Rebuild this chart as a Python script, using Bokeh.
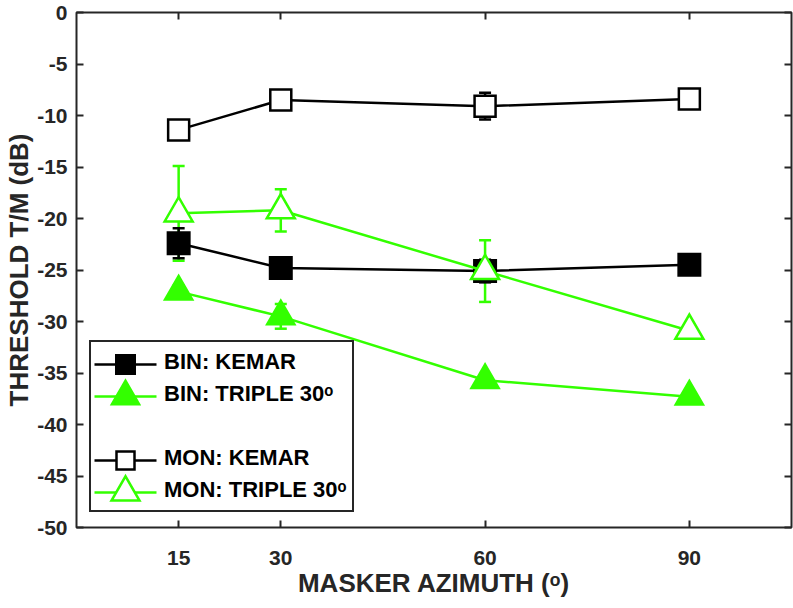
from bokeh.plotting import figure
from bokeh.models import (ColumnDataSource, Whisker, TeeHead, LinearAxis, FixedTicker,
                          Range1d, Legend, LegendItem)
from bokeh.embed import file_html
from bokeh.resources import INLINE

# ---------------- data ----------------
azimuth = [15, 30, 60, 90]
bin_kemar = [-22.4, -24.8, -25.1, -24.5]
bin_kemar_err = [1.45, 0.6, 1.1, 0.5]
bin_triple = [-27.1, -29.5, -35.7, -37.3]
bin_triple_err = [0.6, 1.2, 0.5, 0.5]
mon_kemar = [-11.4, -8.5, -9.1, -8.4]
mon_kemar_err = [0.6, 0.6, 1.3, 0.6]
mon_triple = [-19.5, -19.2, -25.1, -30.9]
mon_triple_err = [4.6, 2.05, 3.0, 0.6]

x_ticks = [15, 30, 60, 90]
y_ticks = [-50, -45, -40, -35, -30, -25, -20, -15, -10, -5, 0]
series_labels = ["BIN: KEMAR", "BIN: TRIPLE 30ᵒ", "MON: KEMAR", "MON: TRIPLE 30ᵒ"]
x_label = "MASKER AZIMUTH (ᵒ)"
y_label = "THRESHOLD T/M (dB)"

# ---------------- layout / style ----------------
W, H = 793, 608
BL, BR, BT, BB = 76, 2, 12, 81
FW, FH = W - BL - BR, H - BT - BB          # frame size in pixels
BLACK = "#000000"
GREEN = "#33ff00"
AXC = "#262626"
FONT = "Liberation Sans"

p = figure(width=W, height=H, x_range=Range1d(0, 105), y_range=Range1d(-50, 0),
           output_backend="svg", toolbar_location=None,
           min_border_left=BL, min_border_right=BR, min_border_top=BT, min_border_bottom=BB,
           background_fill_color="white", border_fill_color="white")
p.extra_x_ranges = {"px": Range1d(0, FW)}
p.extra_y_ranges = {"px": Range1d(0, FH)}
p.xgrid.visible = False
p.ygrid.visible = False
p.outline_line_color = AXC
p.outline_line_width = 2
p.outline_line_alpha = 1


def style_axis(ax, ticks, show_labels=True):
    ax.ticker = FixedTicker(ticks=ticks)
    ax.axis_line_color = None
    ax.major_tick_in = 7
    ax.major_tick_out = 0
    ax.minor_tick_in = 0
    ax.minor_tick_out = 0
    ax.major_tick_line_color = AXC
    ax.major_tick_line_width = 2
    ax.major_label_text_font = FONT
    ax.major_label_text_font_style = "bold"
    ax.major_label_text_color = AXC
    ax.axis_label_text_font = FONT
    ax.axis_label_text_font_style = "bold"
    ax.axis_label_text_color = AXC
    ax.axis_label_text_font_size = "26px"
    if show_labels:
        ax.major_label_text_font_size = "21px"
        ax.major_label_overrides = {t: str(t) for t in ticks}
    else:
        ax.major_label_text_font_size = "1px"
        ax.major_label_standoff = 0
        ax.major_label_overrides = {t: "" for t in ticks}


style_axis(p.xaxis[0], x_ticks)
style_axis(p.yaxis[0], y_ticks)
p.xaxis.axis_label = x_label
p.yaxis.axis_label = y_label
p.xaxis.major_label_standoff = 23
p.xaxis.axis_label_standoff = 0
p.yaxis.major_label_standoff = 9
p.yaxis.axis_label_standoff = 0

top_ax = LinearAxis()
right_ax = LinearAxis()
style_axis(top_ax, x_ticks, False)
style_axis(right_ax, y_ticks, False)
p.add_layout(top_ax, "above")
p.add_layout(right_ax, "right")

# ---------------- error bars (under the markers) ----------------
def add_err(vals, errs, color):
    src = ColumnDataSource(dict(base=azimuth,
                                upper=[v + e for v, e in zip(vals, errs)],
                                lower=[v - e for v, e in zip(vals, errs)]))
    w = Whisker(source=src, base="base", upper="upper", lower="lower", dimension="height",
                line_color=color, line_width=2.5,
                upper_head=TeeHead(size=12, line_color=color, line_width=2.5),
                lower_head=TeeHead(size=12, line_color=color, line_width=2.5),
                level="underlay")
    p.add_layout(w)


add_err(mon_triple, mon_triple_err, GREEN)
add_err(bin_triple, bin_triple_err, GREEN)
add_err(bin_kemar, bin_kemar_err, BLACK)
add_err(mon_kemar, mon_kemar_err, BLACK)

# ---------------- series ----------------
ORDER = ["bk", "bt", "mk", "mt"]
STY = {
    "bk": dict(marker="square", size=22, fill_color=BLACK, line_color=BLACK, line_width=2),
    "bt": dict(marker="triangle", size=28, fill_color=GREEN, line_color=GREEN, line_width=2),
    "mk": dict(marker="square", size=21, fill_color="white", line_color=BLACK, line_width=2.5),
    "mt": dict(marker="triangle", size=28, fill_color="white", line_color=GREEN, line_width=2.5),
}
LCOL = {"bk": BLACK, "bt": GREEN, "mk": BLACK, "mt": GREEN}
DATA = {"bk": bin_kemar, "bt": bin_triple, "mk": mon_kemar, "mt": mon_triple}

for k in ORDER:
    p.line(azimuth, DATA[k], line_color=LCOL[k], line_width=2.5)
    p.scatter(azimuth, DATA[k], line_join="miter", **STY[k])

dummy = p.line([], [], line_alpha=0)

# ---------------- legend (box + labels; keys drawn below in frame pixels) ----------------
LEG_X, LEG_Y, PAD, SPC, ROW, GW = 13, 15, 5, 2, 30, 62
legend = Legend(items=[LegendItem(label=series_labels[0], renderers=[dummy]),
                       LegendItem(label=series_labels[1], renderers=[dummy]),
                       LegendItem(label=" ", renderers=[dummy]),
                       LegendItem(label=series_labels[2], renderers=[dummy]),
                       LegendItem(label=series_labels[3], renderers=[dummy])],
                location=(LEG_X, LEG_Y), margin=0, padding=PAD, spacing=SPC,
                glyph_width=GW, glyph_height=ROW, label_height=ROW, label_standoff=6,
                label_text_font=FONT, label_text_font_style="bold",
                label_text_font_size="22px", label_text_color=BLACK,
                border_line_color=AXC, border_line_width=2, border_line_alpha=1,
                background_fill_alpha=0)
p.add_layout(legend, "center")

n_rows = 5
leg_top = LEG_Y + 2 * PAD + n_rows * ROW + (n_rows - 1) * SPC
key_x0 = LEG_X + PAD
key_x1 = LEG_X + PAD + GW
key_xc = (key_x0 + key_x1) / 2
key_rows = {"bk": 0, "bt": 1, "mk": 3, "mt": 4}
KEY_SIZE = {"bk": 19, "bt": 28, "mk": 18, "mt": 28}
for k in ORDER:
    i = key_rows[k]
    cy = leg_top - (PAD + ROW / 2 + i * (ROW + SPC))
    p.line([key_x0, key_x1], [cy, cy], x_range_name="px", y_range_name="px",
           line_color=LCOL[k], line_width=2.5)
    st = dict(STY[k])
    st["size"] = KEY_SIZE[k]
    p.scatter([key_xc], [cy], x_range_name="px", y_range_name="px",
              line_join="miter", **st)

open("out.html", "w").write(file_html(p, INLINE))
